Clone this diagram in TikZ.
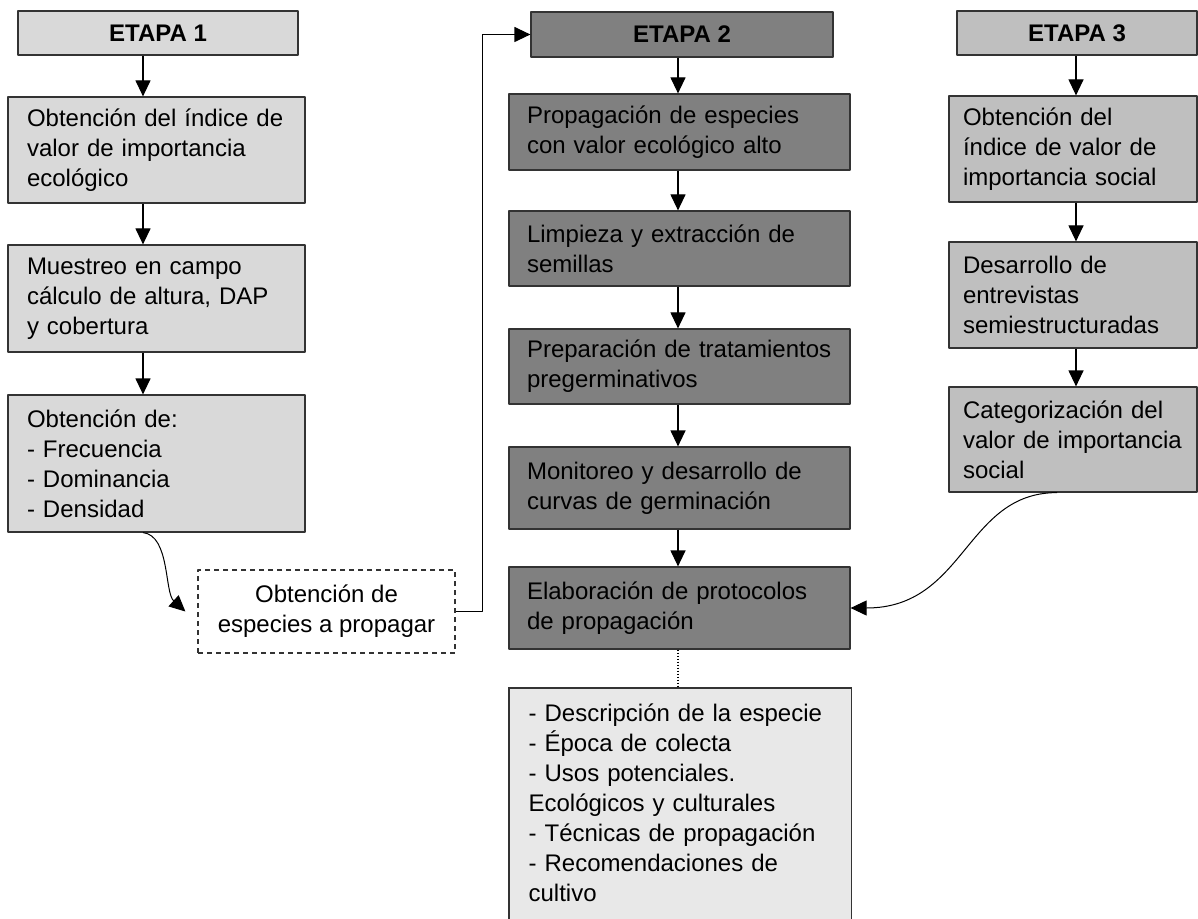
\documentclass[tikz,border=0pt]{standalone}
\usepackage{fontspec}
\setmainfont{Liberation Sans}
\usetikzlibrary{arrows.meta,backgrounds,calc}

\definecolor{grayone}{HTML}{D9D9D9}
\definecolor{graytwo}{HTML}{808080}
\definecolor{graythree}{HTML}{BFBFBF}
\definecolor{graylist}{HTML}{E8E8E8}
\definecolor{edgegray}{HTML}{333333}
\hyphenpenalty=10000

\begin{document}
\begin{tikzpicture}[x=0.5pt, y=-0.5pt, line join=round,
    box/.style={draw=edgegray, line width=0.6pt, inner ysep=0pt, align=left,
        font=\fontsize{12}{15}\selectfont},
    head/.style={box, align=center, font=\fontsize{12}{15}\selectfont\bfseries},
    boxone/.style={box, fill=grayone, minimum width=148.5pt, text width=129.5pt, inner xsep=9.5pt},
    boxtwo/.style={box, fill=graytwo, minimum width=170.5pt, text width=152.5pt, inner xsep=9pt},
    boxthree/.style={box, fill=graythree, minimum width=124pt, text width=110pt, inner xsep=7pt},
    arr/.style={line width=0.6pt, -{Triangle[length=8pt,width=7.5pt]}},
    curvearr/.style={line width=0.5pt, -{Triangle[length=8pt,width=7.5pt]}}]

    % Picture frame
    \useasboundingbox (0,0) rectangle (1198,919);
    \clip (0,0) rectangle (1198,919);

    % Column axes for the vertical arrows
    \coordinate (c1) at (143,0);
    \coordinate (c2) at (678,0);
    \coordinate (c3) at (1076,0);

    % 1. Stage 1 column
    \node[head, fill=grayone, minimum width=140pt, minimum height=22pt] (E1) at (158,33) {ETAPA 1};
    \node[boxone, minimum height=53pt] (A1) at (156.5,150) {Obtención del índice de\\valor de importancia\\ecológico};
    \node[boxone, minimum height=53.5pt] (A2) at (156.5,298.5) {Muestreo en campo\\cálculo de altura, DAP\\y cobertura};
    \node[boxone, minimum height=68.5pt] (A3) at (156.5,463.5) {Obtención de:\\- Frecuencia\\- Dominancia\\- Densidad};

    % Species to propagate (dashed)
    \node[box, dashed, dash pattern=on 2.5pt off 2pt, fill=white, align=center,
        minimum width=128.5pt, minimum height=41.5pt] (D) at (326.5,611.5) {Obtención de\\especies a propagar};

    % 2. Stage 2 column
    \node[head, fill=graytwo, minimum width=151pt, minimum height=22.5pt] (E2) at (682,34.5) {ETAPA 2};
    \node[boxtwo, minimum height=38pt] (P1) at (679.5,132) {Propagación de especies\\con valor ecológico alto};
    \node[boxtwo, minimum height=37.5pt] (P2) at (679.5,248.5) {Limpieza y extracción de\\semillas};
    \node[boxtwo, minimum height=37.5pt] (P3) at (679.5,366.5) {Preparación de tratamientos\\pregerminativos};
    \node[boxtwo, minimum height=41pt] (P4) at (679.5,488) {Monitoreo y desarrollo de\\curvas de germinación};
    \node[boxtwo, minimum height=41pt] (P5) at (679.5,608) {Elaboración de protocolos\\de propagación};

    % List of protocol contents (box runs off the bottom)
    \node[box, draw=none, anchor=north west, text width=151.5pt, inner xsep=9.5pt, inner ysep=7.5pt] (L) at (509,688)
        {- Descripción de la especie\\- Época de colecta\\- Usos potenciales.\\Ecológicos y culturales\\- Técnicas de propagación\\- Recomendaciones de\\cultivo};
    \begin{scope}[on background layer]
        \filldraw[draw=edgegray, line width=0.6pt, fill=graylist] (L.north west) rectangle ($(L.south east)+(0,40)$);
    \end{scope}

    % 3. Stage 3 column
    \node[head, fill=graythree, minimum width=120pt, minimum height=22pt] (E3) at (1077,33) {ETAPA 3};
    \node[boxthree, minimum height=53pt] (B1) at (1073,149) {Obtención del\\índice de valor de\\importancia social};
    \node[boxthree, minimum height=53pt] (B2) at (1073,295) {Desarrollo de\\entrevistas\\semiestructuradas};
    \node[boxthree, minimum height=52.5pt] (B3) at (1073,439.5) {Categorización del\\\mbox{valor de importancia}\\social};

    % 4. Straight arrows down each column
    \foreach \a/\b in {E1/A1, A1/A2, A2/A3}
        \draw[arr] (\a.south -| c1) -- (\b.north -| c1);
    \foreach \a/\b in {E2/P1, P1/P2, P2/P3, P3/P4, P4/P5}
        \draw[arr] (\a.south -| c2) -- (\b.north -| c2);
    \foreach \a/\b in {E3/B1, B1/B2, B2/B3}
        \draw[arr] (\a.south -| c3) -- (\b.north -| c3);

    % 5. Links between columns
    \draw[curvearr] (A3.south -| c1) .. controls +(27,3) and +(-21,-19) .. ([xshift=-6pt]D.west);
    \draw[arr] (D.east) -- ++(27,0) |- (E2.west);
    \draw[curvearr] ([xshift=-8pt]B3.south) .. controls +(-92,0) and +(115,0) .. (P5.east);
    \draw[line width=0.9pt, dash pattern=on 0.9pt off 0.6pt] (P5.south -| c2) -- (L.north -| c2);

\end{tikzpicture}
\end{document}
